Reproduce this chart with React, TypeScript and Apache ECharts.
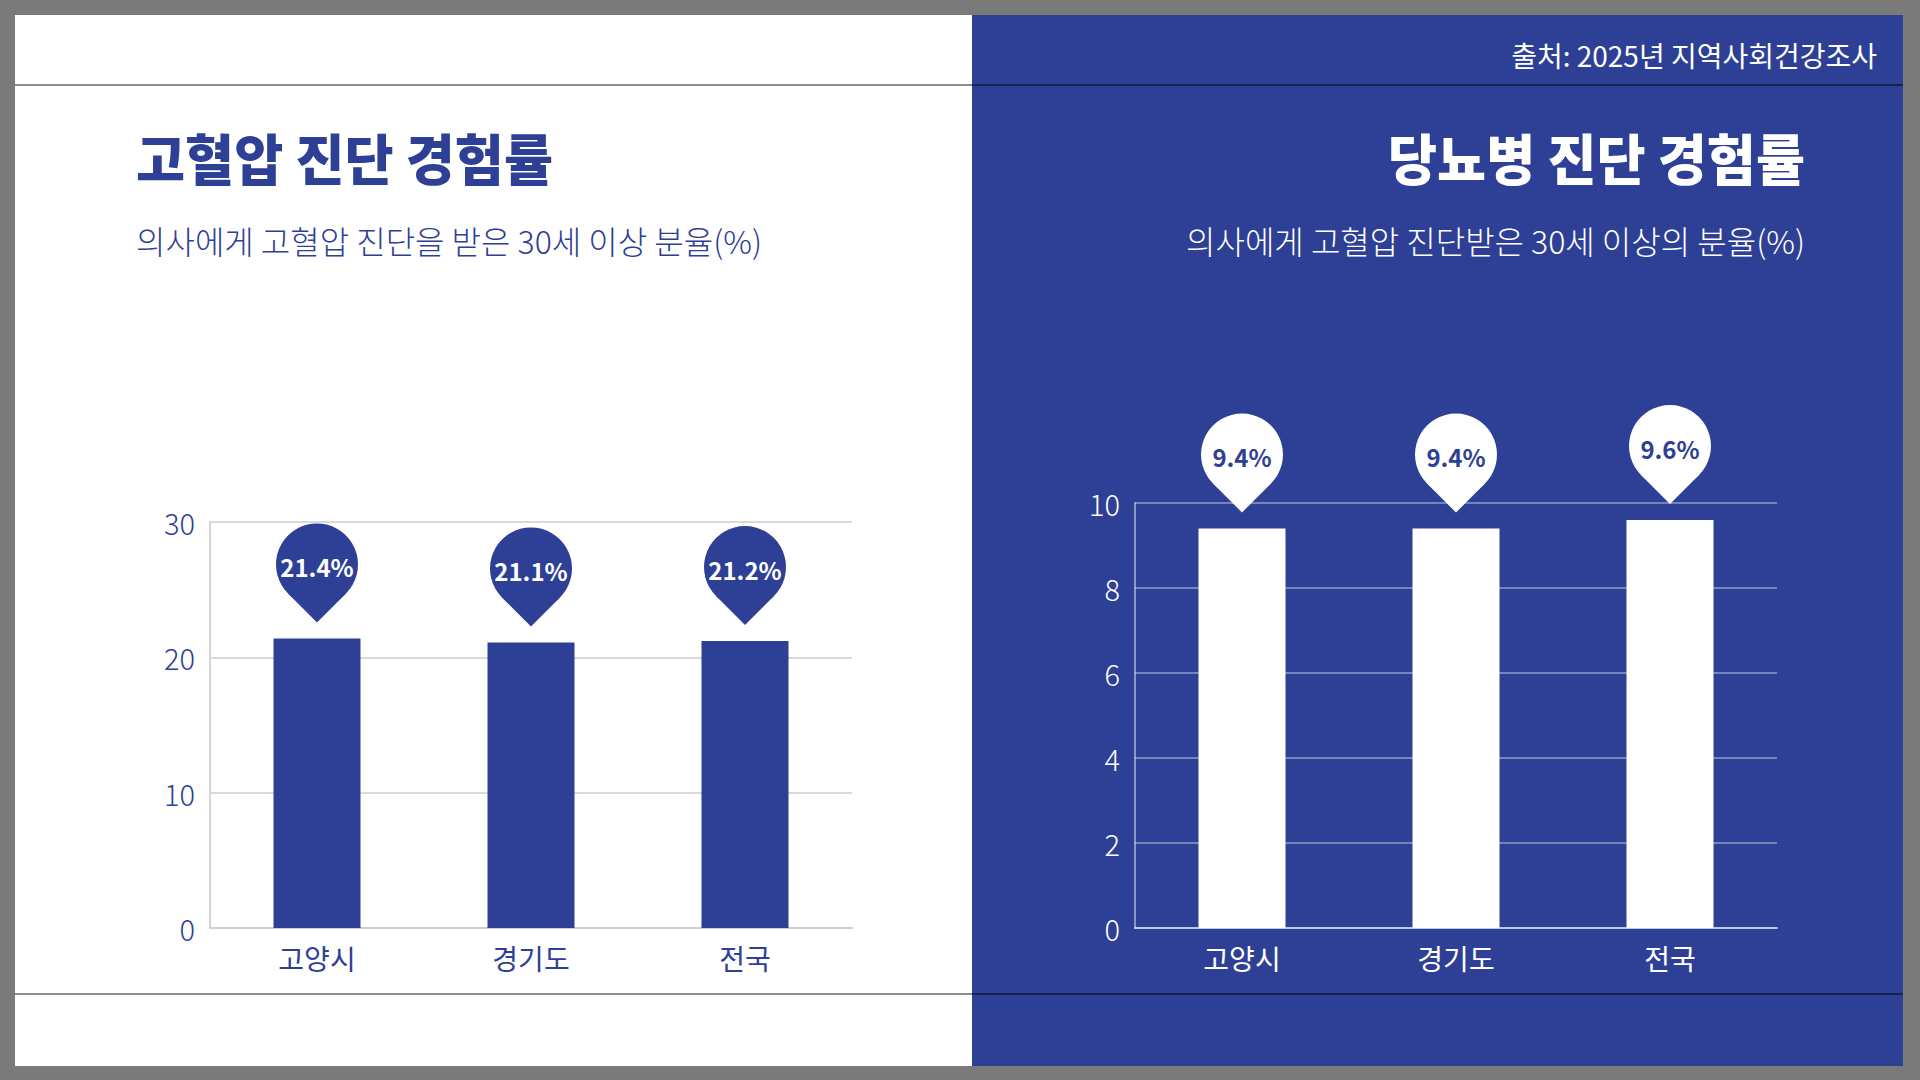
import React, { useEffect, useRef } from 'react';
import * as echarts from 'echarts';

// 지역 구분
const categories = ['고양시', '경기도', '전국'];
// 고혈압 진단 경험률 (%)
const hypertensionValues = [21.4, 21.1, 21.2];
// 당뇨병 진단 경험률 (%)
const diabetesValues = [9.4, 9.4, 9.6];

const leftTitle = '고혈압 진단 경험률';
const leftSubtitle = '의사에게 고혈압 진단을 받은 30세 이상 분율(%)';
const rightTitle = '당뇨병 진단 경험률';
const rightSubtitle = '의사에게 고혈압 진단받은 30세 이상의 분율(%)';
const sourceText = '출처: 2025년 지역사회건강조사';

const BLUE = '#2E4095';
const FONT = '"Noto Sans CJK KR", "Noto Sans", sans-serif';

const PIN_R = 41;
const PIN_TIP = 58; // 원 중심에서 꼭짓점까지
const PIN_GAP = 16; // 막대 위 여백

const makePin = (fill: string, textColor: string) => (params: any, api: any) => {
  const pt = api.coord([api.value(0), api.value(1)]);
  const x = pt[0];
  const tipY = pt[1] - PIN_GAP;
  const cy = tipY - PIN_TIP;
  const side = PIN_R * Math.SQRT1_2;
  return {
    type: 'group',
    children: [
      { type: 'circle', shape: { cx: x, cy, r: PIN_R }, style: { fill } },
      {
        type: 'polygon',
        shape: { points: [[x - side, cy + side], [x, tipY], [x + side, cy + side]] },
        style: { fill },
      },
      {
        type: 'text',
        x,
        y: cy + 2,
        style: {
          text: api.value(1).toFixed(1) + '%',
          fill: textColor,
          font: `bold 24px ${FONT}`,
          align: 'center',
          verticalAlign: 'middle',
        },
      },
    ],
  };
};

const App: React.FC = () => {
  const chartRef = useRef<HTMLDivElement>(null);

  useEffect(() => {
    if (!chartRef.current) return;
    const chart = echarts.init(chartRef.current, undefined, { renderer: 'svg' });

    const option = {
      animation: false,
      backgroundColor: '#7a7a7a',
      graphic: [
        { type: 'rect', z: -10, shape: { x: 15, y: 15, width: 957, height: 1051 }, style: { fill: '#ffffff' } },
        { type: 'rect', z: -10, shape: { x: 972, y: 15, width: 931, height: 1051 }, style: { fill: BLUE } },
        { type: 'line', z: -5, shape: { x1: 15, y1: 85, x2: 1903, y2: 85 }, style: { stroke: 'rgba(0,0,0,0.6)', lineWidth: 1.5 } },
        { type: 'line', z: -5, shape: { x1: 15, y1: 994, x2: 1903, y2: 994 }, style: { stroke: 'rgba(0,0,0,0.6)', lineWidth: 1.5 } },
        {
          type: 'text', x: 1877, y: 55,
          style: { text: sourceText, fill: '#ffffff', font: `28px ${FONT}`, align: 'right', verticalAlign: 'middle' },
        },
        {
          type: 'text', x: 136, y: 156, scaleX: 0.97,
          style: { text: leftTitle, fill: BLUE, font: `900 55px ${FONT}`, align: 'left', verticalAlign: 'middle' },
        },
        {
          type: 'text', x: 136, y: 240,
          style: { text: leftSubtitle, fill: BLUE, font: `300 32px ${FONT}`, align: 'left', verticalAlign: 'middle' },
        },
        {
          type: 'text', x: 1805, y: 156, scaleX: 0.97,
          style: { text: rightTitle, fill: '#ffffff', font: `900 55px ${FONT}`, align: 'right', verticalAlign: 'middle' },
        },
        {
          type: 'text', x: 1805, y: 240,
          style: { text: rightSubtitle, fill: '#ffffff', font: `300 32px ${FONT}`, align: 'right', verticalAlign: 'middle' },
        },
      ],
      grid: [
        { left: 210, right: 1068, top: 522, bottom: 152 },
        { left: 1135, right: 143, top: 503, bottom: 152 },
      ],
      xAxis: [
        {
          type: 'category', gridIndex: 0, data: categories,
          axisLine: { lineStyle: { color: '#cfcfcf', width: 2 } },
          axisTick: { show: false },
          axisLabel: { color: BLUE, fontSize: 28, fontFamily: FONT, margin: 16 },
        },
        {
          type: 'category', gridIndex: 1, data: categories,
          axisLine: { lineStyle: { color: 'rgba(255,255,255,0.55)', width: 2 } },
          axisTick: { show: false },
          axisLabel: { color: '#ffffff', fontSize: 28, fontFamily: FONT, margin: 16 },
        },
      ],
      yAxis: [
        {
          type: 'value', gridIndex: 0, min: 0, max: 30, interval: 10,
          axisLine: { show: true, lineStyle: { color: '#d4d4d4', width: 2 } },
          axisTick: { show: false },
          splitLine: { lineStyle: { color: '#d9d9d9', width: 2 } },
          axisLabel: { color: BLUE, fontSize: 29, fontWeight: 300, fontFamily: FONT, margin: 15 },
        },
        {
          type: 'value', gridIndex: 1, min: 0, max: 10, interval: 2,
          axisLine: { show: true, lineStyle: { color: 'rgba(255,255,255,0.45)', width: 2 } },
          axisTick: { show: false },
          splitLine: { lineStyle: { color: 'rgba(255,255,255,0.35)', width: 2 } },
          axisLabel: { color: '#ffffff', fontSize: 29, fontWeight: 300, fontFamily: FONT, margin: 15 },
        },
      ],
      series: [
        {
          type: 'bar', xAxisIndex: 0, yAxisIndex: 0, data: hypertensionValues,
          barWidth: 87, itemStyle: { color: BLUE },
        },
        {
          type: 'bar', xAxisIndex: 1, yAxisIndex: 1, data: diabetesValues,
          barWidth: 87, itemStyle: { color: '#ffffff' },
        },
        {
          type: 'custom', xAxisIndex: 0, yAxisIndex: 0, z: 5,
          data: hypertensionValues.map((v, i) => [i, v]),
          renderItem: makePin(BLUE, '#ffffff'),
        },
        {
          type: 'custom', xAxisIndex: 1, yAxisIndex: 1, z: 5,
          data: diabetesValues.map((v, i) => [i, v]),
          renderItem: makePin('#ffffff', BLUE),
        },
      ],
    };

    chart.setOption(option);

    const handleResize = () => chart.resize();
    window.addEventListener('resize', handleResize);
    return () => {
      window.removeEventListener('resize', handleResize);
      chart.dispose();
    };
  }, []);

  return (
    <div
      ref={chartRef}
      style={{ position: 'fixed', left: 0, top: 0, width: 1920, height: 1080 }}
    />
  );
};

export default App;
